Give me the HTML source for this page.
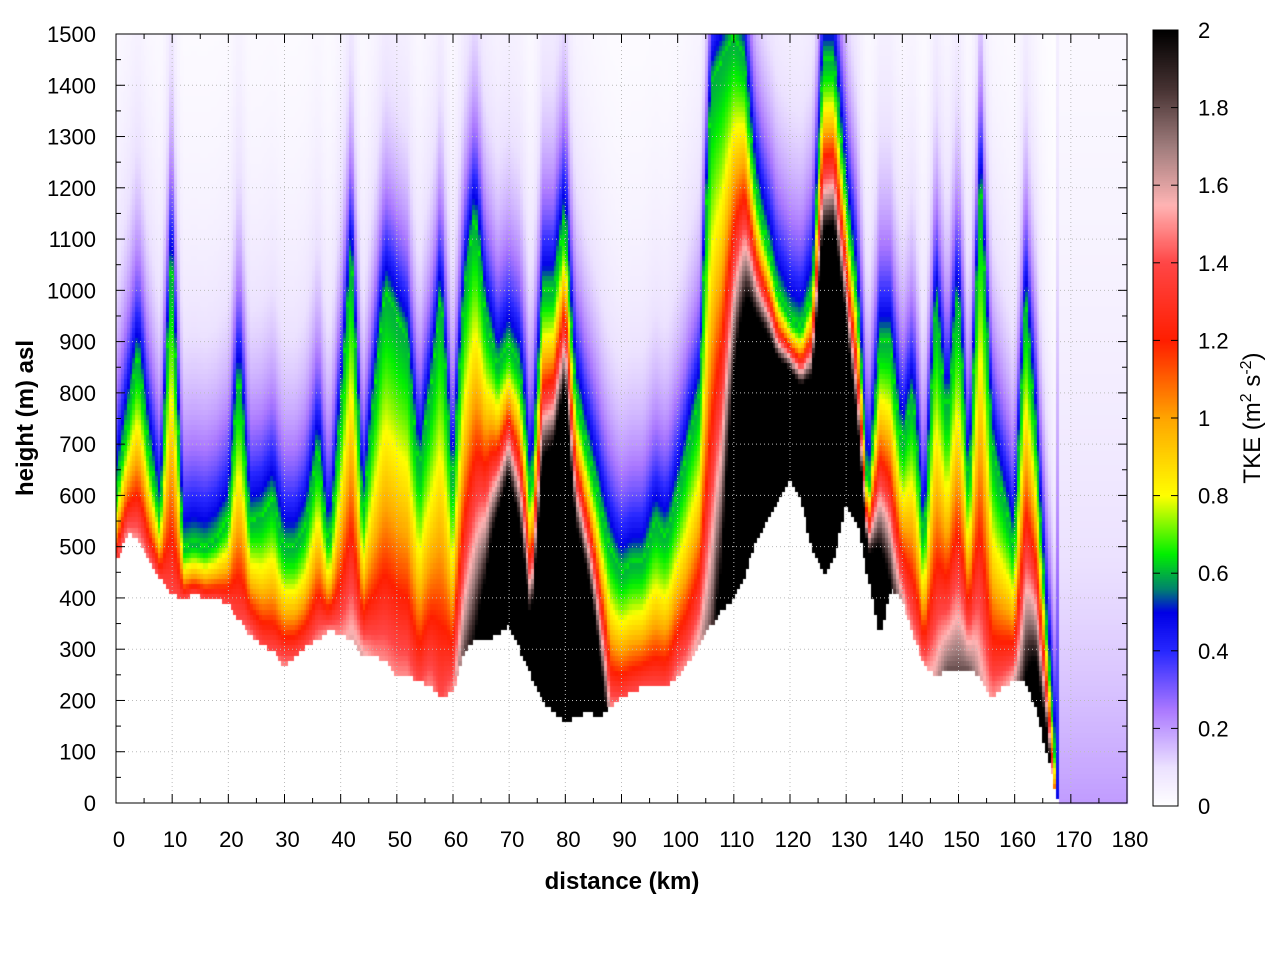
<!DOCTYPE html>
<html><head><meta charset="utf-8"><style>
body{margin:0;background:#fff;width:1280px;height:960px;overflow:hidden;font-family:"Liberation Sans",sans-serif}
#wrap{position:relative;width:1280px;height:960px}
canvas{position:absolute;left:0;top:0}
svg{position:absolute;left:0;top:0}
</style></head><body>
<div id="wrap">
<canvas id="c" width="1280" height="960"></canvas>
<svg id="s" width="1280" height="960"></svg>
</div>
<script>
// data: every 2 km
const distances=[0,2,4,6,8,10,12,14,16,18,20,22,24,26,28,30,32,34,36,38,40,42,44,46,48,50,52,54,56,58,60,62,64,66,68,70,72,74,76,78,80,82,84,86,88,90,92,94,96,98,100,102,104,106,108,110,112,114,116,118,120,122,124,126,128,130,132,134,136,138,140,142,144,146,148,150,152,154,156,158,160,162,164,166,168,170,172,174,176,178,180];
const terrain=[470,530,520,470,440,410,400,410,400,400,390,360,330,310,300,270,290,310,320,340,330,320,290,290,280,250,250,240,230,210,220,300,320,320,330,350,300,250,200,180,160,170,180,170,190,210,220,230,230,230,250,280,320,350,380,400,450,520,550,600,640,590,500,450,490,590,550,440,330,420,400,330,270,250,260,260,260,250,210,230,240,240,180,90,0,0,0,0,0,0,0];
const greenTop=[600,750,880,700,550,1100,500,510,500,520,560,850,550,560,600,500,500,550,700,500,750,1100,550,800,1000,950,900,650,800,1000,600,1000,1150,950,850,900,850,600,1000,1000,1150,800,700,600,500,450,470,470,550,520,600,700,800,1400,1450,1500,1450,1200,1100,1000,950,930,1000,1450,1450,1200,1000,600,900,900,700,800,500,1000,750,1000,600,1250,700,600,500,1000,700,300,0,0,0,0,0,0,0];
const peakTke=[1.4,1.5,1.5,1.5,1.4,1.4,1.4,1.4,1.4,1.4,1.4,1.4,1.5,1.4,1.4,1.5,1.4,1.4,1.5,1.5,1.5,1.6,1.6,1.5,1.5,1.5,1.5,1.4,1.5,1.4,1.5,1.8,2.0,2.5,4.0,5.0,4.0,3.0,6.0,7.0,8.0,6.0,5.0,3.0,1.5,1.4,1.4,1.4,1.4,1.4,1.5,1.5,1.6,1.8,2.2,3.5,5.0,7.0,8.0,8.0,8.0,8.0,8.0,8.0,8.0,6.0,4.0,3.0,3.0,2.0,1.6,1.5,1.5,1.6,1.8,1.8,1.8,1.6,1.5,1.5,1.6,2.0,2.5,2.5,0.2,0.2,0.2,0.2,0.2,0.2,0.2];
const xTicks=[0,10,20,30,40,50,60,70,80,90,100,110,120,130,140,150,160,170,180];
const yTicks=[0,100,200,300,400,500,600,700,800,900,1000,1100,1200,1300,1400,1500];
const cbTicks=[0,0.2,0.4,0.6,0.8,1,1.2,1.4,1.6,1.8,2];

const X0=116,X1=1127,Y0=803,Y1=34;
const xs=d=>X0+(d/180)*(X1-X0);
const ys=h=>Y0-(h/1500)*(Y0-Y1);
const stops=[[0,[255,255,255]],[0.1,[236,226,255]],[0.25,[170,120,255]],[0.4,[40,40,255]],[0.5,[0,0,230]],[0.56,[0,130,110]],[0.65,[0,240,0]],[0.8,[255,255,0]],[1.0,[255,165,0]],[1.2,[255,30,0]],[1.4,[255,70,70]],[1.55,[255,180,180]],[1.7,[160,125,125]],[1.85,[70,50,50]],[2.0,[0,0,0]]];
function col(v){v=Math.max(0,Math.min(2,v));for(let i=1;i<stops.length;i++){if(v<=stops[i][0]){const a=stops[i-1],b=stops[i],t=(v-a[0])/(b[0]-a[0]);return 'rgb('+a[1].map((c,k)=>Math.round(c+(b[1][k]-c)*t)).join(',')+')';}}return 'rgb(0,0,0)';}
function lerp(arr,d){const i=Math.min(distances.length-2,Math.floor(d/2));const t=(d-distances[i])/2;return arr[i]+(arr[i+1]-arr[i])*t;}
const ctx=document.getElementById('c').getContext('2d');
ctx.fillStyle='#fff';ctx.fillRect(0,0,1280,960);
const dstep=0.5,hstep=10;
for(let d=0;d<180;d+=dstep){
  const dc=d+dstep/2;
  const tr=lerp(terrain,dc),gt=lerp(greenTop,dc),pk=lerp(peakTke,dc);
  const D=Math.max(gt-tr,60);
  for(let h=0;h<1500;h+=hstep){
    const hc=h+hstep/2;
    if(hc<tr)continue;
    const z=hc-tr;
    let v;
    if(pk<0.6){v=pk*Math.exp(-z/700);}
    else if(z<D){v=0.6+(pk-0.6)*Math.pow(1-z/D,1.5);}
    else{const u=z-D;v=0.45*Math.exp(-u/150)+0.2*Math.exp(-u/400);}
    ctx.fillStyle=col(v);
    ctx.fillRect(Math.floor(xs(d)),Math.floor(ys(h+hstep)),Math.ceil(xs(d+dstep)-xs(d))+1,Math.ceil(ys(h)-ys(h+hstep))+1);
  }
}
// colorbar
for(let p=0;p<776;p++){ctx.fillStyle=col(p/776*2);ctx.fillRect(1153,806-p-1,25,2);}
const s=document.getElementById('s');const NS='http://www.w3.org/2000/svg';
function el(t,a,txt){const e=document.createElementNS(NS,t);for(const k in a)e.setAttribute(k,a[k]);if(txt!==undefined)e.textContent=txt;s.appendChild(e);return e;}
xTicks.forEach(v=>{const x=xs(v);
 const g=el('line',{x1:x,x2:x,y1:Y1,y2:Y0,stroke:'#bbb','stroke-dasharray':'1,3'});
 el('line',{x1:x,x2:x,y1:Y0,y2:Y0-9,stroke:'#000'});el('line',{x1:x,x2:x,y1:Y1,y2:Y1+9,stroke:'#000'});
 const t=el('text',{x:x+3,y:847,'text-anchor':'middle','font-size':22},String(v));});
for(let v=5;v<180;v+=10){const x=xs(v);el('line',{x1:x,x2:x,y1:Y0,y2:Y0-5,stroke:'#000'});el('line',{x1:x,x2:x,y1:Y1,y2:Y1+5,stroke:'#000'});}
yTicks.forEach(v=>{const y=ys(v);
 const g=el('line',{x1:X0,x2:X1,y1:y,y2:y,stroke:'#bbb','stroke-dasharray':'1,3'});
 el('line',{x1:X0,x2:X0+9,y1:y,y2:y,stroke:'#000'});el('line',{x1:X1,x2:X1-9,y1:y,y2:y,stroke:'#000'});
 const t=el('text',{x:96,y:y+8,'text-anchor':'end','font-size':22},String(v));});
for(let v=50;v<1500;v+=100){const y=ys(v);el('line',{x1:X0,x2:X0+5,y1:y,y2:y,stroke:'#000'});el('line',{x1:X1,x2:X1-5,y1:y,y2:y,stroke:'#000'});}
const fr=el('rect',{x:X0,y:Y1,width:X1-X0,height:Y0-Y1,fill:'none',stroke:'#000'});
const cb=el('rect',{x:1153,y:30,width:25,height:776,fill:'none',stroke:'#000'});
cbTicks.forEach(v=>{const y=806-v/2*776;el('line',{x1:1153,x2:1160,y1:y,y2:y,stroke:'#000'});el('line',{x1:1178,x2:1171,y1:y,y2:y,stroke:'#000'});
 const t=el('text',{x:1198,y:y+8,'font-size':22},String(v));});
const xt=el('text',{x:622,y:889,'text-anchor':'middle','font-size':24,'font-weight':'bold'},'distance (km)');
const yt=el('text',{x:33,y:418,'text-anchor':'middle','font-size':24,'font-weight':'bold',transform:'rotate(-90 33 418)'},'height (m) asl');
const ct=el('text',{x:1260,y:418,'text-anchor':'middle','font-size':24,transform:'rotate(-90 1260 418)'});
ct.innerHTML='TKE (m<tspan dy="-9" font-size="16">2</tspan><tspan dy="9"> s</tspan><tspan dy="-9" font-size="16">-2</tspan><tspan dy="9">)</tspan>';
</script>
</body></html>
